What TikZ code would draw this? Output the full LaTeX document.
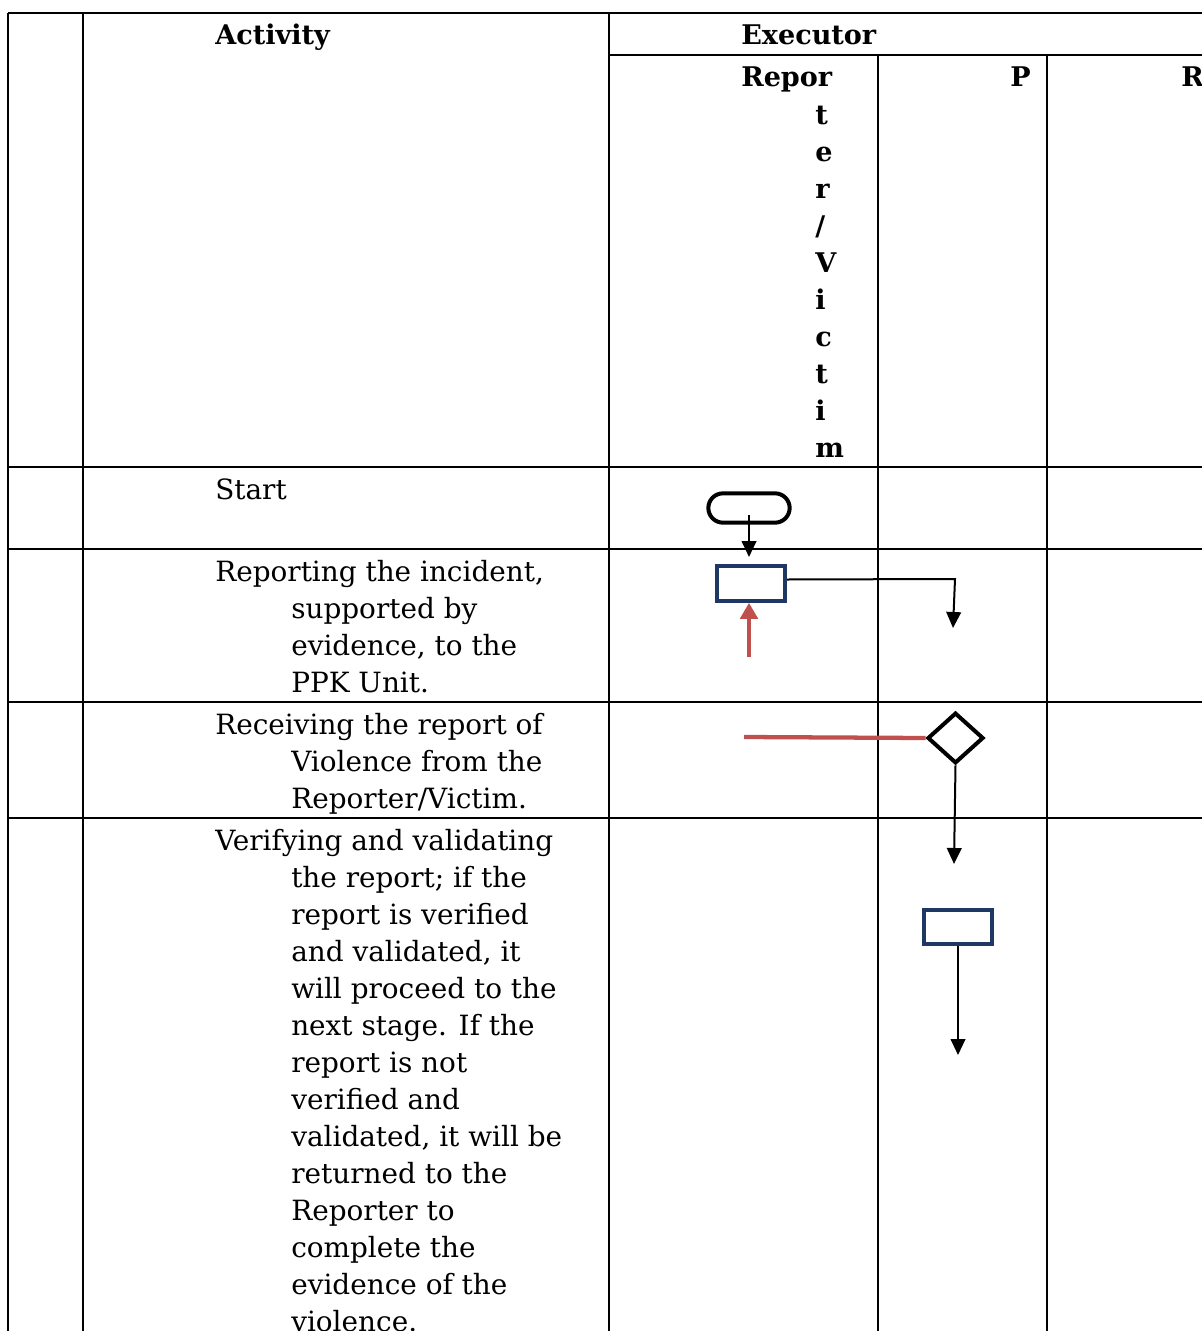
\documentclass[tikz,border=0pt]{standalone}
\usepackage{fontspec}
\setmainfont{DejaVu Serif}
\usetikzlibrary{arrows.meta,shapes.geometric,calc}
\definecolor{navy}{HTML}{1F3763}
\definecolor{redc}{HTML}{C0504D}
\newlength\rwa
\newlength\rwb
\AtBeginDocument{%
\settowidth\rwa{\normalfont\fontsize{10pt}{12pt}\selectfont Verifying and validating}%
\pgfmathsetmacro\bsz{10*253.5/\rwa}%
\settowidth\rwb{\normalfont\fontsize{10pt}{12pt}\selectfont\bfseries Executor}%
\pgfmathsetmacro\hsz{10*101.25/\rwb}%
}
\begin{document}
\begin{tikzpicture}[x=0.75pt,y=-0.75pt]
\tikzset{
  txt/.style={anchor=base west, inner sep=0pt, font=\fontsize{\bsz pt}{\bsz pt}\selectfont},
  hd/.style={anchor=base west, inner sep=0pt, font=\fontsize{\hsz pt}{\hsz pt}\selectfont\bfseries},
  grid/.style={line width=1.8pt, black},
  arr/.style={-{Triangle[width=11pt,length=12pt]}, line width=1.5pt, black},
  redarr/.style={-{Triangle[width=13pt,length=12pt]}, line width=3.2pt, redc},
  redline/.style={line width=3.2pt, redc},
  procbox/.style={draw=navy, line width=3pt, minimum width=51pt, minimum height=26pt, inner sep=0pt},
  termbox/.style={draw=black, line width=3pt, rounded corners=11pt, minimum width=61pt, minimum height=22pt, inner sep=0pt},
  decbox/.style={diamond, draw=black, line width=3pt, minimum width=42pt, minimum height=38pt, inner sep=0pt}
}
\useasboundingbox (0,0) rectangle (1202,1331);
\clip (0,0) rectangle (1202,1331);
\fill[white] (0,0) rectangle (1202,1331);
% table grid
\draw[grid] (8,13) -- (1205,13);
\draw[grid] (609,55) -- (1205,55);
\foreach \yy in {467,549,702,818} {\draw[grid] (8,\yy) -- (1205,\yy);}
\draw[grid] (8,13) -- (8,1335);
\draw[grid] (83,13) -- (83,1335);
\draw[grid] (609,13) -- (609,1335);
\draw[grid] (878,55) -- (878,1335);
\draw[grid] (1047,55) -- (1047,1335);
% headings
\node[hd] (hact) at (215,45) {Activity};
\node[hd] (hexe) at (741,45) {Executor};
\node[hd] (hrep) at (741,87) {Repor};
\node[hd] (hv1) at (815,124) {t};
\node[hd] (hv2) at (815,161) {e};
\node[hd] (hv3) at (815,198) {r};
\node[hd] (hv4) at (815,235) {/};
\node[hd] (hv5) at (815,272) {V};
\node[hd] (hv6) at (815,309) {i};
\node[hd] (hv7) at (815,346) {c};
\node[hd] (hv8) at (815,383) {t};
\node[hd] (hv9) at (815,420) {i};
\node[hd] (hv10) at (815,457) {m};
\node[hd] (hp) at (1010,87) {P};
\node[hd] (hr) at (1181,87) {R};
% activity texts
\node[txt] (s1) at (215,499) {Start};
\node[txt] (r1) at (215,581) {Reporting the incident,};
\node[txt] (r2) at (291,618) {supported by};
\node[txt] (r3) at (291,655) {evidence, to the};
\node[txt] (r4) at (291,692) {PPK Unit.};
\node[txt] (c1) at (215,734) {Receiving the report of};
\node[txt] (c2) at (291,771) {Violence from the};
\node[txt] (c3) at (291,808) {Reporter/Victim.};
\node[txt] (v1) at (215,850) {Verifying and validating};
\node[txt] (v2) at (291,887) {the report; if the};
\node[txt] (v3) at (291,924) {report is verified};
\node[txt] (v4) at (291,961) {and validated, it};
\node[txt] (v5) at (291,998) {will proceed to the};
\node[txt] (v6) at (291,1035) {next stage. If the};
\node[txt] (v7) at (291,1072) {report is not};
\node[txt] (v8) at (291,1109) {verified and};
\node[txt] (v9) at (291,1146) {validated, it will be};
\node[txt] (v10) at (291,1183) {returned to the};
\node[txt] (v11) at (291,1220) {Reporter to};
\node[txt] (v12) at (291,1257) {complete the};
\node[txt] (v13) at (291,1294) {evidence of the};
\node[txt] (v14) at (291,1331) {violence.};
% flow shapes
\node[termbox] (term) at (749,508) {};
\node[procbox] (box1) at (751,583.5) {};
\node[decbox] (dec) at (955.5,738) {};
\node[procbox] (box2) at (958,927) {};
% free ends
\coordinate (tin) at (749,515);
\coordinate (ta) at (749,557);
\coordinate (tb) at (953,628);
\coordinate (rs) at (749,657);
\coordinate (ls) at (744,737);
\coordinate (tc) at (954,864);
\coordinate (td) at (958,1055);
% connectors
\draw[arr] (tin) -- (ta);
\draw[arr] ($(box1.east)+(0,-4)$) -- (955,579) -- (tb);
\draw[redarr] (rs) -- (rs |- box1.south);
\draw[redline] (ls) -- (dec.west);
\draw[arr] (dec.south) -- (tc);
\draw[arr] (box2.south) -- (td);
\end{tikzpicture}
\end{document}
